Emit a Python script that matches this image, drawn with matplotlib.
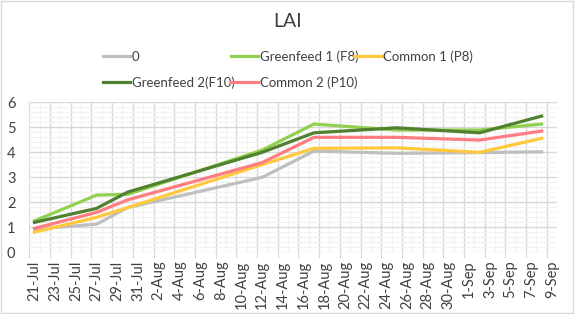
import datetime as dt
import matplotlib
matplotlib.use("Agg")
import matplotlib.pyplot as plt
import matplotlib.transforms as mtransforms
from matplotlib.patches import Rectangle

plt.rcParams['font.family'] = ['Lato', 'DejaVu Sans']

# sampling dates and LAI readings
sample_dates = ["21-Jul", "27-Jul", "30-Jul", "12-Aug", "17-Aug", "25-Aug", "2-Sep", "8-Sep"]
lai_0 = [0.92, 1.12, 1.78, 2.99, 4.04, 3.95, 3.98, 4.01]
lai_greenfeed1 = [1.25, 2.28, 2.31, 4.08, 5.12, 4.88, 4.88, 5.12]
lai_common1 = [0.80, 1.39, 1.78, 3.50, 4.15, 4.17, 3.99, 4.55]
lai_greenfeed2 = [1.19, 1.75, 2.40, 3.99, 4.77, 4.97, 4.77, 5.44]
lai_common2 = [0.95, 1.59, 2.09, 3.58, 4.59, 4.59, 4.48, 4.84]

axis_start = "21-Jul"
axis_end = "9-Sep"

def to_date(s):
    return dt.datetime.strptime(s + "-2019", "%d-%b-%Y")

t0 = to_date(axis_start)
ndays = (to_date(axis_end) - t0).days
x = [(to_date(s) - t0).days for s in sample_dates]

fig = plt.figure(figsize=(5.75, 3.14), dpi=100)
ax = fig.add_axes([0.051, 0.197, 0.918, 0.478])

l0, = ax.plot(x, lai_0, color='#BFBFBF', lw=2.3, label='0')
g1, = ax.plot(x, lai_greenfeed1, color='#92D050', lw=2.3, label='Greenfeed 1 (F8)')
c1, = ax.plot(x, lai_common1, color='#FFC83D', lw=2.3, label='Common 1 (P8)')
g2, = ax.plot(x, lai_greenfeed2, color='#4F812F', lw=2.3, label='Greenfeed 2(F10)')
c2, = ax.plot(x, lai_common2, color='#FF7C80', lw=2.3, label='Common 2 (P10)')

ax.set_xlim(-0.5, ndays + 0.5)
ax.set_ylim(0, 6)

# gridlines sit on the category edges, labels on the centres
edges = [d - 0.5 for d in range(0, ndays + 1, 2)]
ax.set_xticks(edges)
ax.set_xticklabels([(t0 + dt.timedelta(days=d)).strftime("%-d-%b") for d in range(0, ndays + 1, 2)],
                   rotation=90, fontsize=10.5, color='#404040')
ax.set_xticks([d - 0.5 for d in range(ndays + 2)], minor=True)
ax.set_yticks(range(7))
ax.set_yticks([i * 0.2 for i in range(31)], minor=True)
ax.tick_params(axis='y', which='both', length=0, labelsize=10.5, labelcolor='#404040', pad=10)
ax.tick_params(axis='x', which='major', length=4, color='#D9D9D9', pad=2)
ax.tick_params(axis='x', which='minor', length=0)
shift = mtransforms.ScaledTranslation(5.2 / 100, 0, fig.dpi_scale_trans)
for lab in ax.get_xticklabels():
    lab.set_transform(lab.get_transform() + shift)

ax.grid(which='major', color='#D9D9D9', lw=1)
ax.grid(which='minor', color='#F2F2F2', lw=0.8)
ax.set_axisbelow(True)
for s in ax.spines.values():
    s.set_visible(False)

fig.text(0.5, 0.93, "LAI", ha='center', va='center', fontsize=14, color='#404040')

leg = fig.legend([l0, g2, g1, c2, c1],
                 ['0', 'Greenfeed 2(F10)', 'Greenfeed 1 (F8)', 'Common 2 (P10)', 'Common 1 (P8)'],
                 ncol=3, loc='upper left', bbox_to_anchor=(0.167, 0.86), frameon=False,
                 fontsize=9.5, handlelength=2.1, handletextpad=0.1, columnspacing=-0.3,
                 labelspacing=1.0, borderpad=0)
for t in leg.get_texts():
    t.set_color('#404040')

fig.patches.append(Rectangle((0.002, 0.003), 0.995, 0.993, transform=fig.transFigure,
                             fill=False, edgecolor='#D9D9D9', lw=1))

fig.savefig("out.png", dpi=100)
